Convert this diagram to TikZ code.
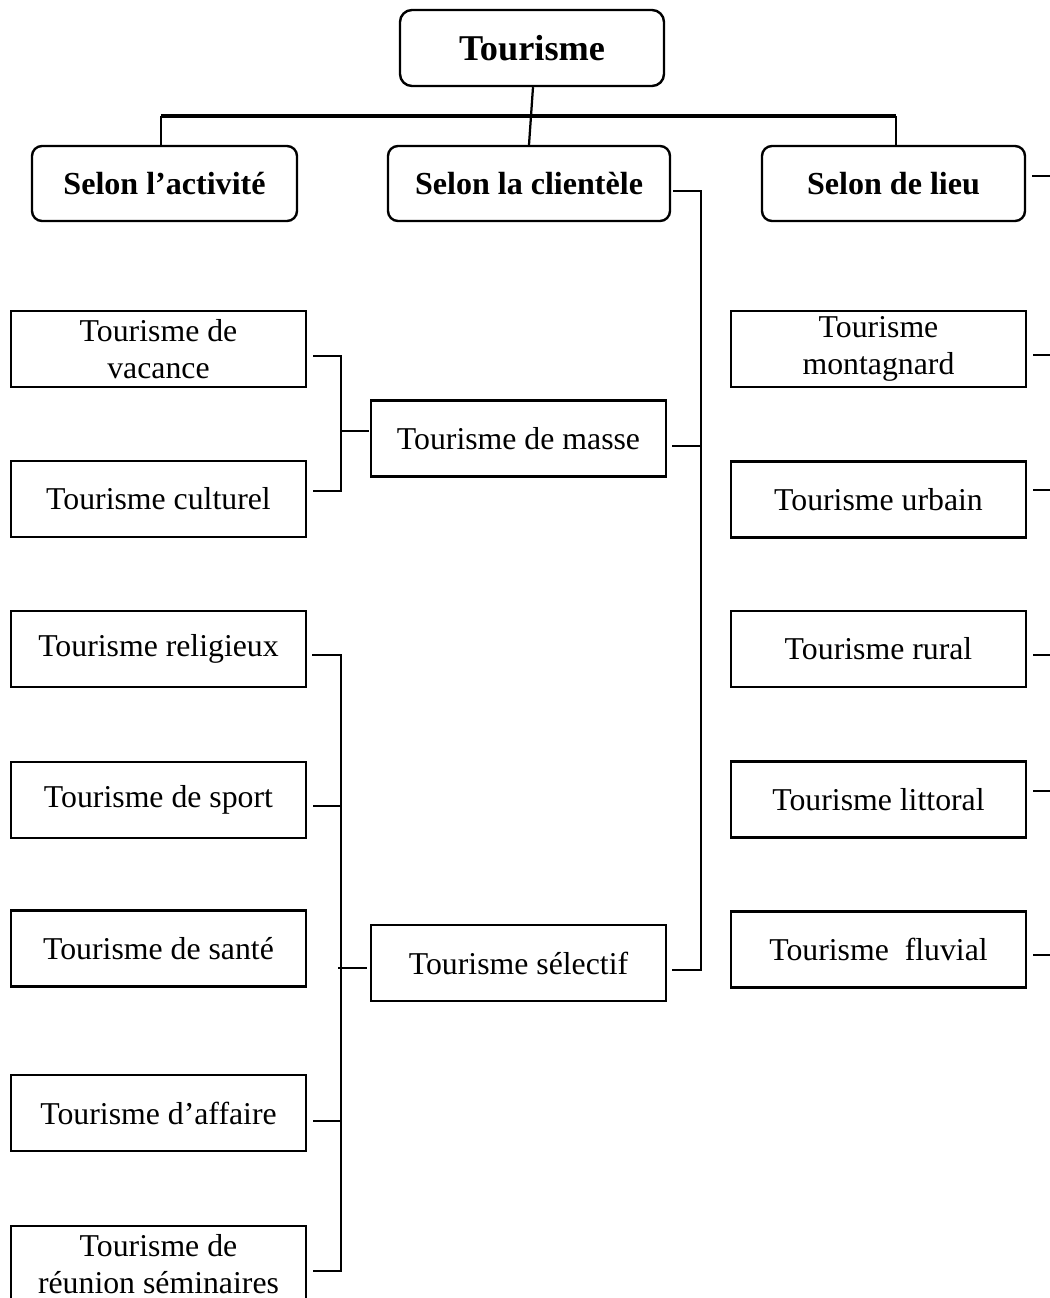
\documentclass[tikz,border=0pt]{standalone}
\usepackage{fontspec}
\setmainfont{Liberation Serif}
\usetikzlibrary{math}

\begin{document}
\begin{tikzpicture}[x=0.025cm,y=-0.025cm,
  racine/.style={draw,line width=1.7pt,rounded corners=0.3cm,inner sep=0pt,
    minimum width=264*0.025cm,minimum height=76*0.025cm,
    font=\fontsize{25.8}{30}\selectfont\bfseries},
  critere/.style={draw,line width=1.7pt,rounded corners=0.25cm,inner sep=0pt,
    minimum height=75*0.025cm,font=\fontsize{22.8}{27}\selectfont\bfseries},
  forme/.style={draw,line width=1.6pt,inner sep=0pt,align=center,
    minimum width=295*0.025cm,minimum height=76*0.025cm,
    font=\fontsize{22.6}{26.3}\selectfont},
  lien/.style={line width=1.6pt},
  barre/.style={line width=2.8pt}]
\tikzmath{
\d=878.5;
}
\useasboundingbox (0,0) rectangle (1050,1298);

% niveaux 0 et 1
\node[racine] (tour) at (532,48) {Tourisme};
\node[critere,minimum width=265*0.025cm] (act) at (164.5,183.5) {Selon l’activité};
\node[critere,minimum width=282*0.025cm] (cli) at (529,183.5) {Selon la clientèle};
\node[critere,minimum width=263*0.025cm] (lieu) at (893.5,183.5) {Selon de lieu};

% colonne gauche
\node[forme] (vac) at (158.5,349) {Tourisme de\\vacance};
\node[forme] (cult) at (158.5,499) {Tourisme culturel};
\node[forme] (rel) at (158.5,649) {Tourisme religieux};
\node[forme] (sport) at (158.5,800) {Tourisme de sport};
\node[forme] (sante) at (158.5,948.5) {Tourisme de santé};
\node[forme] (aff) at (158.5,1113) {Tourisme d’affaire};
\node[forme] (reun) at (158.5,1264) {Tourisme de\\réunion séminaires};

% colonne du milieu
\node[forme] (masse) at (518.5,438.5) {Tourisme de masse};
\node[forme] (sel) at (518.5,963) {Tourisme sélectif};

% colonne droite
\node[forme] (mont) at (\d,349) {Tourisme\\montagnard};
\node[forme] (urb) at (\d,499.5) {Tourisme urbain};
\node[forme] (rur) at (\d,649) {Tourisme rural};
\node[forme] (litt) at (\d,799.5) {Tourisme littoral};
\node[forme] (fluv) at (\d,949.5) {Tourisme\ \ fluvial};

\coordinate (bar) at (0,116);
\coordinate (tronc) at (701,0);
\coordinate (fourche) at (341,0);
\coordinate (bord) at (1050,0);

% liaisons du haut
\draw[barre] (act.north |- bar) ++(-3.5,0) -- ([shift={(2.5,0)}]lieu.north |- bar);
\draw[lien] ([shift={(-3.5,0)}]act.north) -- ([shift={(-3.5,0)}]act.north |- bar);
\draw[lien] ([shift={(2.5,0)}]lieu.north) -- ([shift={(2.5,0)}]lieu.north |- bar);
\draw[lien] ([shift={(1,0)}]tour.south) -- (cli.north);

% selon la clientele
\draw[lien] ([shift={(2,7.5)}]cli.east) -| ([shift={(0,7)}]sel.east -| tronc) -- ([shift={(5,7)}]sel.east);
\draw[lien] ([shift={(5,7.5)}]masse.east) -- ([shift={(0,7.5)}]masse.east -| tronc);

% tourisme de masse
\draw[lien] ([shift={(6,7)}]vac.east) -| ([shift={(0,-8)}]cult.east -| fourche) -- ([shift={(6,-8)}]cult.east);
\draw[lien] ([shift={(0,-7.5)}]masse.west -| fourche) -- ([shift={(-1,-7.5)}]masse.west);

% tourisme selectif
\draw[lien] ([shift={(5,6)}]rel.east) -| ([shift={(0,7)}]reun.east -| fourche) -- ([shift={(6,7)}]reun.east);
\draw[lien] ([shift={(6,6)}]sport.east) -- ([shift={(0,6)}]sport.east -| fourche);
\draw[lien] ([shift={(6,8)}]aff.east) -- ([shift={(0,8)}]aff.east -| fourche);
\draw[lien] ([shift={(-3,5)}]sel.west -| fourche) -- ([shift={(-3,5)}]sel.west);

% selon de lieu
\foreach \n/\dy in {lieu/-7.5, mont/6, urb/-9.5, rur/6, litt/-8.5, fluv/5.5}
  \draw[lien] ([shift={(6,\dy)}]\n.east) -- ([shift={(0,\dy)}]\n.east -| bord);

\end{tikzpicture}
\end{document}
